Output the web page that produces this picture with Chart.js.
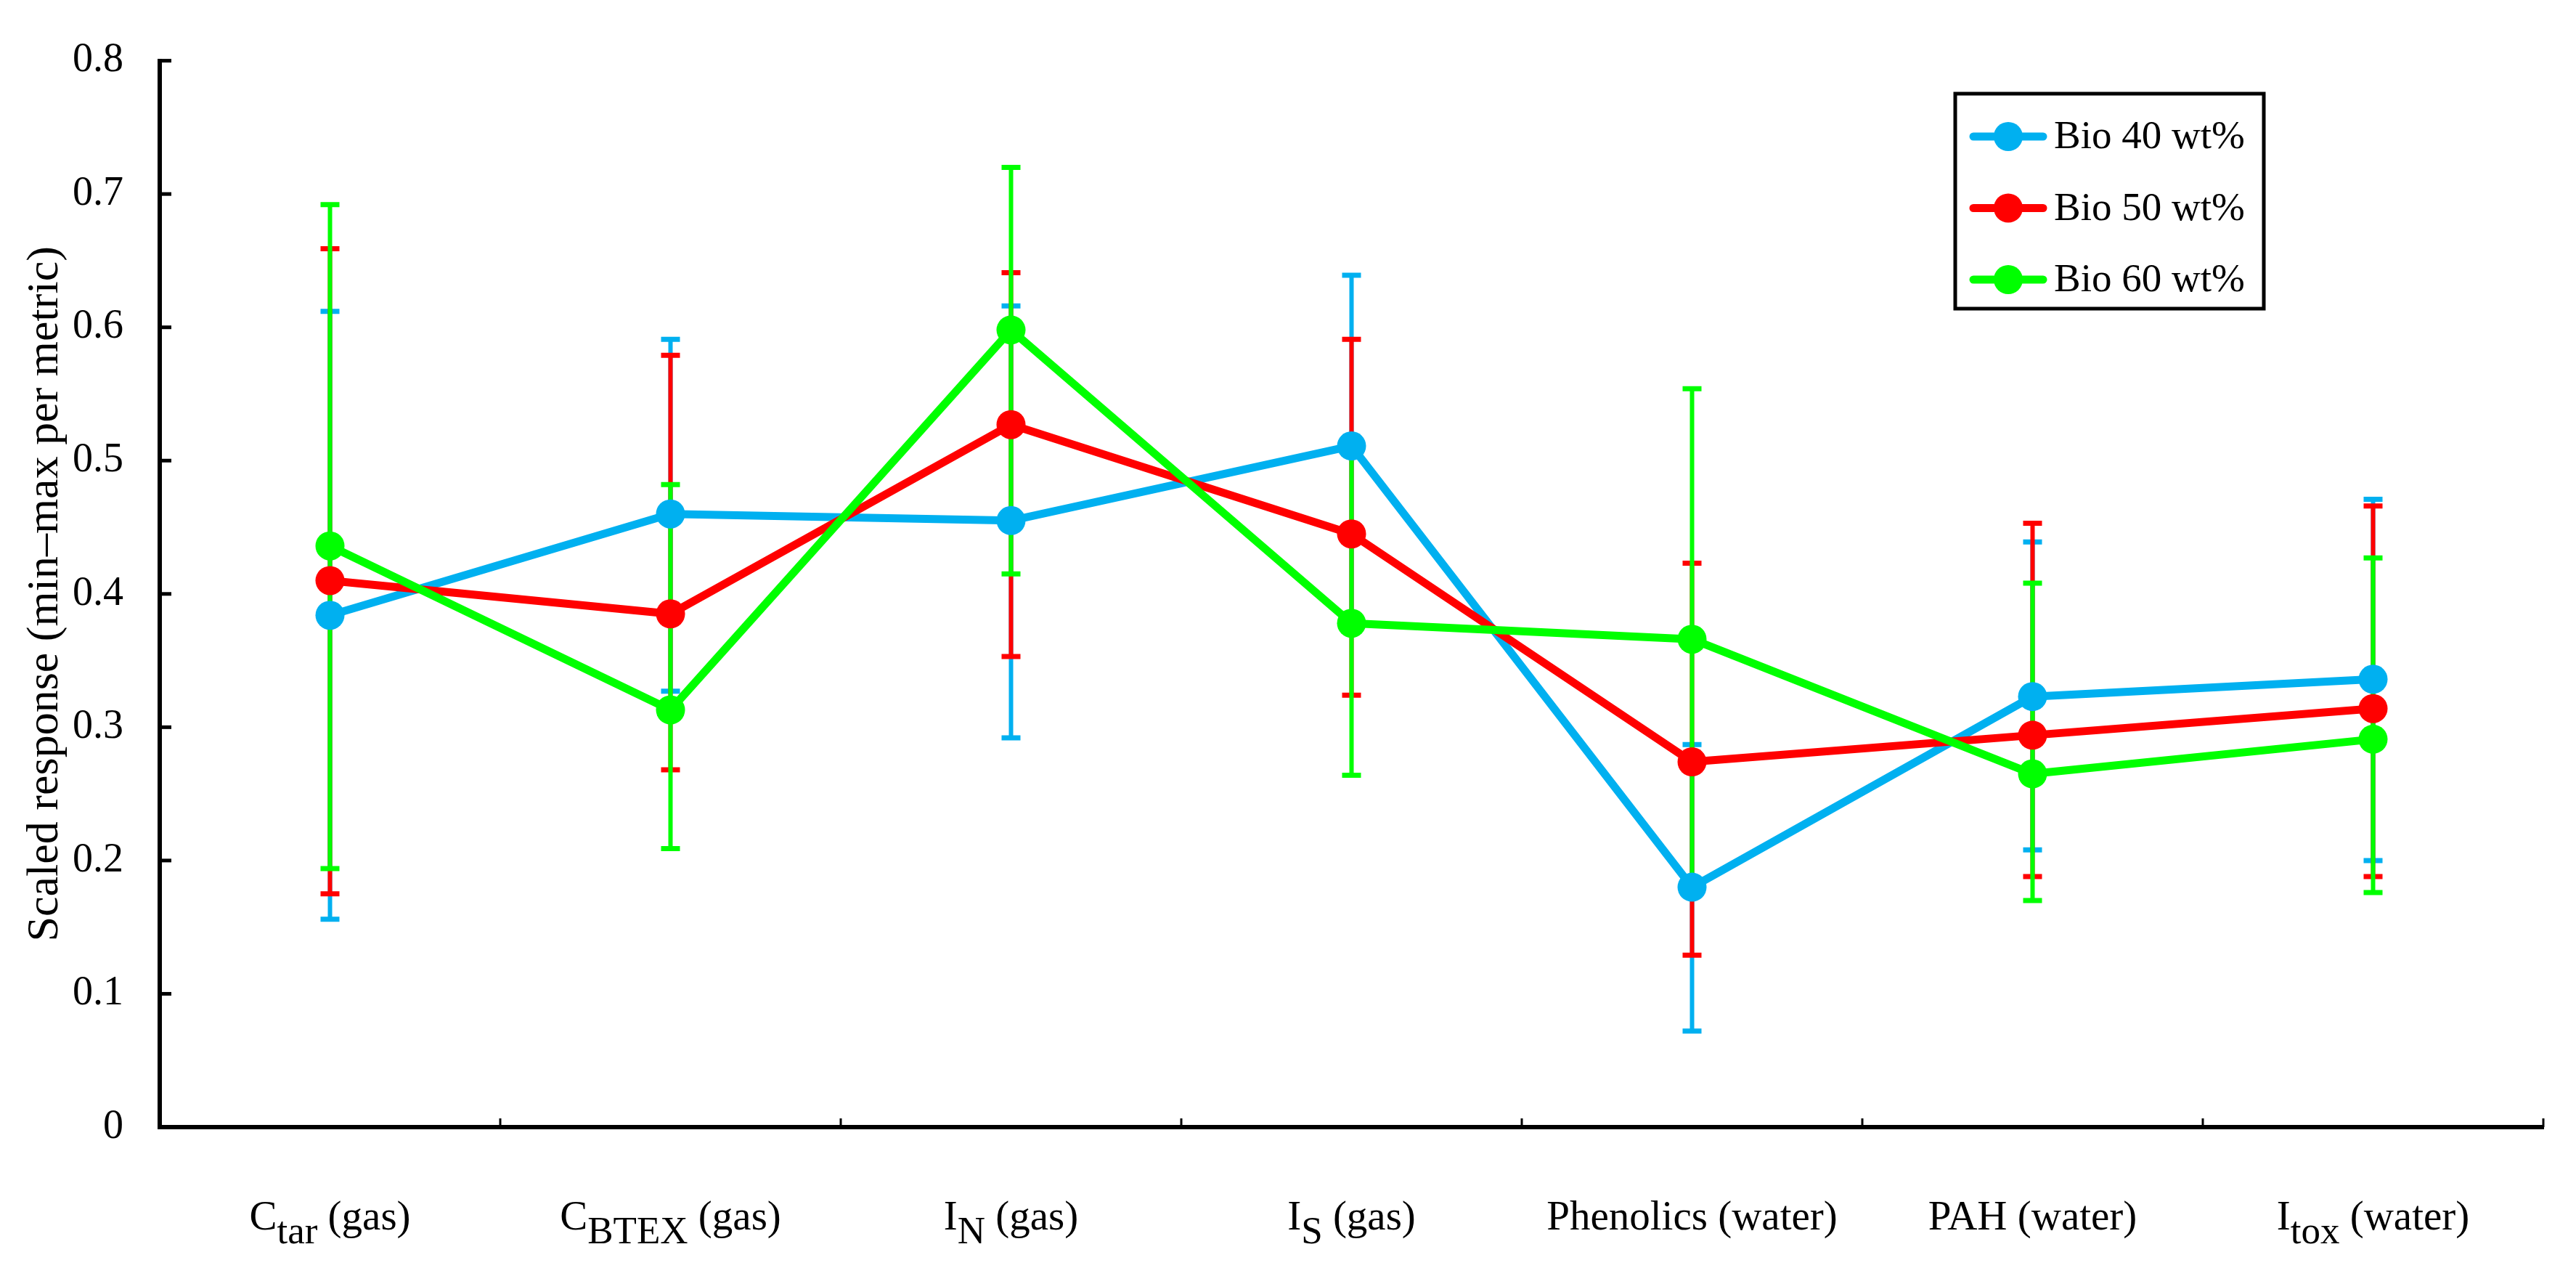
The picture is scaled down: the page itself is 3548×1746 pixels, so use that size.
<!DOCTYPE html>
<html lang="en">
<head>
    <meta charset="UTF-8">
    <title>Scaled response per metric</title>
    <script src="https://cdn.jsdelivr.net/npm/chart.js"></script>
    <style>
        body { margin: 0; background: #fff; }
        canvas { display: block; }
    </style>
</head>
<body>
    <canvas id="responseChart" width="3548" height="1746"></canvas>

    <script>
        // Categories (base text, subscript, rest of label)
        const categories = ['Ctar (gas)', 'CBTEX (gas)', 'IN (gas)', 'IS (gas)', 'Phenolics (water)', 'PAH (water)', 'Itox (water)'];
        const labelBase = ['C', 'C', 'I', 'I', 'Phenolics', 'PAH', 'I'];
        const labelSub = ['tar', 'BTEX', 'N', 'S', '', '', 'tox'];
        const labelRest = [' (gas)', ' (gas)', ' (gas)', ' (gas)', ' (water)', ' (water)', ' (water)'];

        const yTicks = [0, 0.1, 0.2, 0.3, 0.4, 0.5, 0.6, 0.7, 0.8];

        // Bio 40 wt%
        const bio40 = [0.384, 0.460, 0.455, 0.511, 0.180, 0.323, 0.336];
        const bio40Low = [0.156, 0.327, 0.292, 0.383, 0.072, 0.208, 0.200];
        const bio40High = [0.612, 0.591, 0.616, 0.639, 0.287, 0.439, 0.471];

        // Bio 50 wt%
        const bio50 = [0.410, 0.385, 0.527, 0.445, 0.274, 0.294, 0.314];
        const bio50Low = [0.175, 0.268, 0.353, 0.324, 0.129, 0.188, 0.188];
        const bio50High = [0.659, 0.579, 0.641, 0.591, 0.423, 0.453, 0.466];

        // Bio 60 wt%
        const bio60 = [0.436, 0.313, 0.598, 0.378, 0.366, 0.265, 0.291];
        const bio60Low = [0.194, 0.209, 0.415, 0.264, 0.180, 0.170, 0.176];
        const bio60High = [0.692, 0.482, 0.720, 0.508, 0.554, 0.408, 0.427];

        const FONT = "'Liberation Serif', 'Times New Roman', serif";

        function series(label, data, low, high, color, order) {
            return {
                label: label,
                data: data,
                errLow: low,
                errHigh: high,
                borderColor: color,
                backgroundColor: color,
                pointBackgroundColor: color,
                pointBorderColor: color,
                borderWidth: 11,
                borderCapStyle: 'round',
                borderJoinStyle: 'round',
                pointRadius: 20,
                pointBorderWidth: 0,
                fill: false,
                tension: 0,
                order: order
            };
        }

        // error bars under the lines, green on top
        const errorBars = {
            id: 'errorBars',
            beforeDatasetsDraw(chart) {
                const ctx = chart.ctx;
                const y = chart.scales.y;
                chart.data.datasets.forEach((ds, i) => {
                    const meta = chart.getDatasetMeta(i);
                    ctx.save();
                    ctx.strokeStyle = ds.borderColor;
                    meta.data.forEach((pt, j) => {
                        const yl = y.getPixelForValue(ds.errLow[j]);
                        const yh = y.getPixelForValue(ds.errHigh[j]);
                        ctx.lineWidth = 6;
                        ctx.beginPath();
                        ctx.moveTo(pt.x, yl);
                        ctx.lineTo(pt.x, yh);
                        ctx.stroke();
                        ctx.lineWidth = 7;
                        ctx.beginPath();
                        ctx.moveTo(pt.x - 13, yl);
                        ctx.lineTo(pt.x + 13, yl);
                        ctx.moveTo(pt.x - 13, yh);
                        ctx.lineTo(pt.x + 13, yh);
                        ctx.stroke();
                    });
                    ctx.restore();
                });
            }
        };

        // inward ticks, category labels with subscripts, boxed legend
        const decorations = {
            id: 'decorations',
            afterDraw(chart) {
                const ctx = chart.ctx;
                const xs = chart.scales.x;
                const ys = chart.scales.y;
                const area = chart.chartArea;
                ctx.save();
                ctx.strokeStyle = '#000';

                // y ticks pointing into the plot
                ctx.lineWidth = 5;
                yTicks.forEach(v => {
                    if (v === 0) return;
                    const py = ys.getPixelForValue(v);
                    ctx.beginPath();
                    ctx.moveTo(area.left, py);
                    ctx.lineTo(area.left + 16, py);
                    ctx.stroke();
                });

                // x ticks at category boundaries
                ctx.lineWidth = 3;
                const step = (area.right - area.left) / categories.length;
                for (let i = 1; i <= categories.length; i++) {
                    const px = area.left + i * step;
                    ctx.beginPath();
                    ctx.moveTo(px, area.bottom);
                    ctx.lineTo(px, area.bottom - 12);
                    ctx.stroke();
                }

                // category labels
                ctx.fillStyle = '#000';
                ctx.textBaseline = 'alphabetic';
                ctx.textAlign = 'left';
                const mainFont = '57px ' + FONT;
                const subFont = '53px ' + FONT;
                const baseY = area.bottom + 141;
                categories.forEach((c, i) => {
                    ctx.font = mainFont;
                    const w1 = ctx.measureText(labelBase[i]).width;
                    const w3 = ctx.measureText(labelRest[i]).width;
                    ctx.font = subFont;
                    const w2 = labelSub[i] ? ctx.measureText(labelSub[i]).width : 0;
                    const cx = xs.getPixelForValue(i);
                    let x = cx - (w1 + w2 + w3) / 2;
                    ctx.font = mainFont;
                    ctx.fillText(labelBase[i], x, baseY);
                    x += w1;
                    if (labelSub[i]) {
                        ctx.font = subFont;
                        ctx.fillText(labelSub[i], x, baseY + 19);
                        x += w2;
                    }
                    ctx.font = mainFont;
                    ctx.fillText(labelRest[i], x, baseY);
                });

                // legend
                const box = { left: 2693, top: 129, right: 3118, bottom: 425 };
                ctx.lineWidth = 5;
                ctx.strokeRect(box.left, box.top, box.right - box.left, box.bottom - box.top);
                ctx.font = '55px ' + FONT;
                ctx.textBaseline = 'middle';
                chart.data.datasets.forEach((ds, i) => {
                    const ry = 188 + i * 98.5;
                    ctx.strokeStyle = ds.borderColor;
                    ctx.lineWidth = 11;
                    ctx.lineCap = 'round';
                    ctx.beginPath();
                    ctx.moveTo(2718, ry);
                    ctx.lineTo(2814, ry);
                    ctx.stroke();
                    ctx.fillStyle = ds.borderColor;
                    ctx.beginPath();
                    ctx.arc(2766, ry, 20, 0, Math.PI * 2);
                    ctx.fill();
                    ctx.fillStyle = '#000';
                    ctx.fillText(ds.label, 2829, ry + 2);
                });
                ctx.restore();
            }
        };

        const ctx = document.getElementById('responseChart').getContext('2d');
        const responseChart = new Chart(ctx, {
            type: 'line',
            data: {
                labels: categories,
                datasets: [
                    series('Bio 40 wt%', bio40, bio40Low, bio40High, '#00B0F0', 2),
                    series('Bio 50 wt%', bio50, bio50Low, bio50High, '#FF0000', 1),
                    series('Bio 60 wt%', bio60, bio60Low, bio60High, '#00FF00', 0)
                ]
            },
            options: {
                responsive: false,
                animation: false,
                layout: { padding: { left: 0, top: 57, right: 45, bottom: 0 } },
                plugins: {
                    legend: { display: false },
                    tooltip: { enabled: false }
                },
                scales: {
                    x: {
                        type: 'category',
                        offset: true,
                        grid: { display: false },
                        border: { display: true, color: '#000', width: 6 },
                        ticks: { display: false },
                        afterFit(scale) { scale.height = 194; }
                    },
                    y: {
                        min: 0,
                        max: 0.8,
                        grid: { display: false, drawTicks: false },
                        border: { display: true, color: '#000', width: 6 },
                        ticks: {
                            stepSize: 0.1,
                            padding: 50,
                            color: '#000',
                            font: { family: FONT, size: 56 },
                            callback: v => v === 0 ? '0' : v.toFixed(1)
                        },
                        title: {
                            display: true,
                            text: 'Scaled response (min\u2013max per metric)',
                            color: '#000',
                            font: { family: FONT, size: 62 },
                            padding: { top: 26, bottom: 0 }
                        },
                        afterFit(scale) { scale.width = 220; }
                    }
                }
            },
            plugins: [errorBars, decorations]
        });
    </script>
</body>
</html>
